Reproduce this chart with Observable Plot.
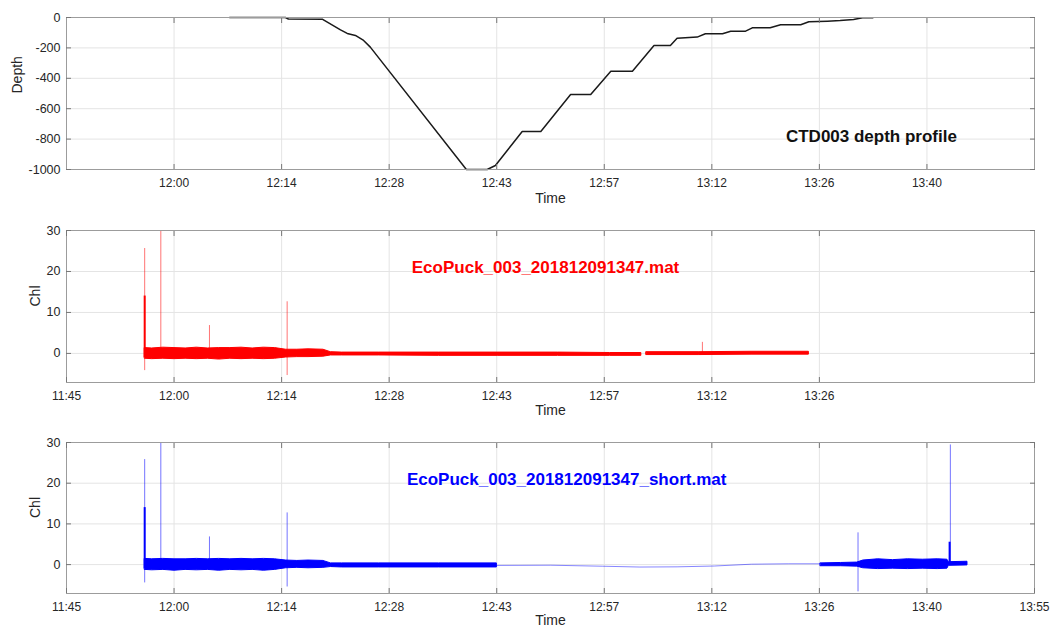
<!DOCTYPE html>
<html><head><meta charset="utf-8">
<script src="https://cdn.jsdelivr.net/npm/d3@7"></script>
<script src="https://cdn.jsdelivr.net/npm/@observablehq/plot@0.6"></script>
<style>
body{margin:0;background:#fff;}
#chart svg{display:block;}
</style></head><body><div id="chart"></div>
<script>
// ---------- data ----------
const tickLabels = ["11:45","12:00","12:14","12:28","12:43","12:57","13:12","13:26","13:40","13:55"];
const depthTicks = [0, -200, -400, -600, -800, -1000];
const chlTicks = [0, 10, 20, 30];

// CTD003 depth profile
const depthTime = ["12:06:54","12:14:24","12:14:48","12:19:24","12:21:48","12:22:42","12:23:48","12:24:54","12:25:48",
  "12:38:42","12:41:30","12:42:36","12:46:12","12:48:42","12:52:42","12:55:24","12:58:06","13:01:00","13:03:54",
  "13:06:06","13:07:00","13:09:42","13:10:48","13:13:06","13:14:12","13:16:12","13:17:06","13:19:30","13:20:54",
  "13:23:36","13:24:42","13:27:12","13:28:54","13:30:42","13:31:54","13:33:18"];
const depthValue = [0, 0, -10, -12, -81, -105, -118, -151, -195,
  -1000, -1000, -974, -750, -750, -507, -507, -353, -353, -184,
  -184, -136, -129, -107, -107, -90, -90, -68, -68, -48,
  -48, -28, -24, -20, -13, -2, -2];

// EcoPuck_003_201812091347.mat : envelope of the noisy trace (null = gap)
const redTime = ["11:55:33","11:56:30","11:58:00","11:59:30","12:01:00","12:02:30","12:04:00","12:05:30","12:07:00",
  "12:08:30","12:10:00","12:11:30","12:13:00","12:14:30","12:16:00","12:17:30","12:19:30","12:20:30","12:22:00",
  "12:27:00","12:35:00","12:43:00","12:51:00","12:58:00","13:02:12","13:02:30","13:02:54","13:10:00","13:17:00","13:24:42"];
const redLow  = [-1.3,-1.4,-1.3,-1.4,-1.3,-1.4,-1.3,-1.5,-1.3,-1.4,-1.3,-1.4,-1.3,-1.0,-0.9,-0.9,-0.8,-0.5,-0.5,
  -0.5,-0.6,-0.6,-0.6,-0.6,-0.6,null,-0.4,-0.4,-0.3,-0.3];
const redHigh = [1.3,1.2,1.4,1.3,1.2,1.4,1.2,1.3,1.3,1.4,1.2,1.4,1.3,0.9,0.9,1.0,0.9,0.3,0.2,
  0.2,0.2,0.2,0.2,0.1,0.1,null,0.3,0.3,0.4,0.4];
const redSpikeTime = ["11:55:30","11:57:40","12:04:12","12:14:38","13:10:24"];
const redSpikeLow  = [-4.2, 0, 0.5, -5.4, 0];
const redSpikeHigh = [25.6, 30, 6.8, 12.6, 2.7];
const redBaseTime = ["11:55:30"];
const redBaseLow = [-1];
const redBaseHigh = [14];

// EcoPuck_003_201812091347_short.mat
const blueTime = ["11:55:33","11:56:30","11:58:00","11:59:30","12:01:00","12:02:30","12:04:00","12:05:30","12:07:00",
  "12:08:30","12:10:00","12:11:30","12:13:00","12:14:30","12:16:00","12:17:30","12:19:30","12:20:30","12:22:00",
  "12:27:00","12:35:00","12:42:48","12:42:54",
  "13:26:18","13:29:00","13:31:12","13:32:00","13:34:00","13:36:00","13:38:00","13:40:00","13:42:00","13:43:18","13:43:30","13:46:00"];
const blueLow  = [-1.3,-1.4,-1.3,-1.5,-1.3,-1.4,-1.3,-1.5,-1.3,-1.4,-1.3,-1.5,-1.3,-0.9,-0.8,-0.9,-0.8,-0.6,-0.7,
  -0.7,-0.7,-0.7,null,
  -0.4,-0.4,-0.5,-0.9,-1.1,-1.0,-1.1,-1.0,-1.1,-1.0,-0.3,-0.2];
const blueHigh = [1.4,1.3,1.4,1.3,1.3,1.4,1.3,1.4,1.3,1.4,1.3,1.4,1.3,1.0,0.9,1.0,0.9,0.3,0.3,
  0.3,0.3,0.3,null,
  0.3,0.4,0.5,1.0,1.3,1.1,1.3,1.2,1.3,1.2,0.6,0.7];
const blueThinTime = ["12:42:48","12:50:00","12:57:00","13:02:00","13:07:00","13:12:00","13:17:00","13:22:00","13:26:18"];
const blueThinValue = [-0.2, -0.15, -0.4, -0.6, -0.55, -0.35, 0.1, 0.2, 0.2];
const blueSpikeTime = ["11:55:30","11:57:40","12:04:12","12:14:38","13:31:18","13:43:42"];
const blueSpikeLow  = [-4.5, 0, 0.5, -5.5, -6.7, 0];
const blueSpikeHigh = [25.8, 30, 6.8, 12.7, 7.8, 29.4];
const blueBaseTime = ["11:55:30","13:43:36"];
const blueBaseLow = [-1, 0];
const blueBaseHigh = [14, 5.5];

// annotations (MATLAB text(x, y, str))
const noteText = ["CTD003 depth profile", "EcoPuck_003_201812091347.mat", "EcoPuck_003_201812091347_short.mat"];
const noteTime = ["13:33:06", "12:49:20", "12:52:10"];
const noteValue = [-783, 21, 21];

// ---------- helpers ----------
const parse = d3.utcParse("%H:%M:%S");
const t0 = parse("11:45:00"), t1 = parse("13:55:00");
const step = (t1 - t0) / (tickLabels.length - 1);
const tickDates = tickLabels.map((_, i) => new Date(+t0 + i * step));
const fmt = d => tickLabels[Math.round((d - t0) / step)];
const FONT = "'Liberation Sans', Arial, Helvetica, sans-serif";
const GRID = "#e4e4e4", FRAME = "#9c9c9c", INK = "#262626";

const rows = (T, ...cols) => T.map((t, i) => {
  const o = {t: parse(t)};
  cols.forEach((c, j) => o["v" + j] = c[i] == null ? NaN : c[i]);
  return o;
});

function panel({height, marginTop, marginBottom, yDomain, yTicks, xLabelIdx, yLabel, yLabelDx, timeDy, marks}) {
  const xt = xLabelIdx.map(i => tickDates[i]);
  const innerX = tickDates.slice(1, -1).filter(d => xt.some(e => +e === +d));
  const innerY = yTicks.filter(v => v !== yDomain[0] && v !== yDomain[1]);
  return Plot.plot({
    width: 1053, height, marginLeft: 66, marginRight: 19, marginTop, marginBottom,
    style: {fontFamily: FONT, fontSize: "12px", color: INK, background: "white"},
    x: {type: "utc", domain: [t0, t1]},
    y: {domain: yDomain},
    marks: [
      Plot.ruleX(innerX, {stroke: GRID, strokeWidth: 1}),
      Plot.ruleY(innerY, {stroke: GRID, strokeWidth: 1}),
      ...marks,
      Plot.frame({stroke: FRAME, strokeWidth: 1}),
      Plot.axisX(xt, {anchor: "bottom", tickSize: -5, fill: "none", stroke: "#777", label: null}),
      Plot.axisX(xt, {anchor: "top", tickSize: -5, fill: "none", stroke: "#777", label: null}),
      Plot.axisY(yTicks, {anchor: "left", tickSize: -5, fill: "none", stroke: "#777", label: null}),
      Plot.axisY(yTicks, {anchor: "right", tickSize: -5, fill: "none", stroke: "#777", label: null}),
      Plot.axisX(xt, {anchor: "bottom", tickSize: 0, tickPadding: 9, tickFormat: fmt, label: null, fontSize: 12}),
      Plot.axisY(yTicks, {anchor: "left", tickSize: 0, tickPadding: 6, tickFormat: d => String(d), label: null, fontSize: 12.5}),
      Plot.text(["Time"], {text: d => d, frameAnchor: "bottom", dy: timeDy, fontSize: 14, fill: INK}),
      Plot.text([yLabel], {text: d => d, frameAnchor: "left", dx: yLabelDx, rotate: -90, fontSize: 14, fill: INK})
    ]
  });
}

const depthRows = rows(depthTime, depthValue);
const redRows = rows(redTime, redLow, redHigh);
const redSpikes = rows(redSpikeTime, redSpikeLow, redSpikeHigh);
const redBase = rows(redBaseTime, redBaseLow, redBaseHigh);
const blueRows = rows(blueTime, blueLow, blueHigh);
const blueThin = rows(blueThinTime, blueThinValue);
const blueSpikes = rows(blueSpikeTime, blueSpikeLow, blueSpikeHigh);
const blueBase = rows(blueBaseTime, blueBaseLow, blueBaseHigh);
const notes = noteText.map((s, i) => ({s, t: parse(noteTime[i]), v: noteValue[i]}));

const chart = document.getElementById("chart");

chart.append(panel({
  height: 210, marginTop: 17, marginBottom: 41,
  yDomain: [-1000, 0], yTicks: depthTicks, xLabelIdx: [1,2,3,4,5,6,7,8],
  yLabel: "Depth", yLabelDx: -49, timeDy: 33,
  marks: [
    Plot.line(depthRows, {x: "t", y: "v0", stroke: "#1a1a1a", strokeWidth: 1.5}),
    Plot.text([notes[0]], {x: "t", y: "v", text: "s", fontSize: 17, fontWeight: "bold", fill: "#111"})
  ]
}));

chart.append(panel({
  height: 212, marginTop: 20, marginBottom: 40,
  yDomain: [-7.1, 30], yTicks: chlTicks, xLabelIdx: [0,1,2,3,4,5,6,7],
  yLabel: "Chl", yLabelDx: -31, timeDy: 32,
  marks: [
    Plot.ruleX(redSpikes, {x: "t", y1: "v0", y2: "v1", stroke: "#ff0000", strokeWidth: 1, strokeOpacity: 0.55}),
    Plot.ruleX(redBase, {x: "t", y1: "v0", y2: "v1", stroke: "#ff0000", strokeWidth: 2}),
    Plot.areaY(redRows, {x: "t", y1: "v0", y2: "v1", fill: "#ff0000", stroke: "#ff0000", strokeWidth: 1}),
    Plot.text([notes[1]], {x: "t", y: "v", text: "s", fontSize: 17, fontWeight: "bold", fill: "#ff0000"})
  ]
}));

chart.append(panel({
  height: 205, marginTop: 20, marginBottom: 34,
  yDomain: [-7.1, 30], yTicks: chlTicks, xLabelIdx: [0,1,2,3,4,5,6,7,8,9],
  yLabel: "Chl", yLabelDx: -31, timeDy: 31,
  marks: [
    Plot.ruleX(blueSpikes, {x: "t", y1: "v0", y2: "v1", stroke: "#0000ff", strokeWidth: 1, strokeOpacity: 0.55}),
    Plot.ruleX(blueBase, {x: "t", y1: "v0", y2: "v1", stroke: "#0000ff", strokeWidth: 2}),
    Plot.line(blueThin, {x: "t", y: "v0", stroke: "#0000ff", strokeWidth: 0.8, strokeOpacity: 0.6}),
    Plot.areaY(blueRows, {x: "t", y1: "v0", y2: "v1", fill: "#0000ff", stroke: "#0000ff", strokeWidth: 1}),
    Plot.text([notes[2]], {x: "t", y: "v", text: "s", fontSize: 17, fontWeight: "bold", fill: "#0000ff"})
  ]
}));
</script>
</body></html>
